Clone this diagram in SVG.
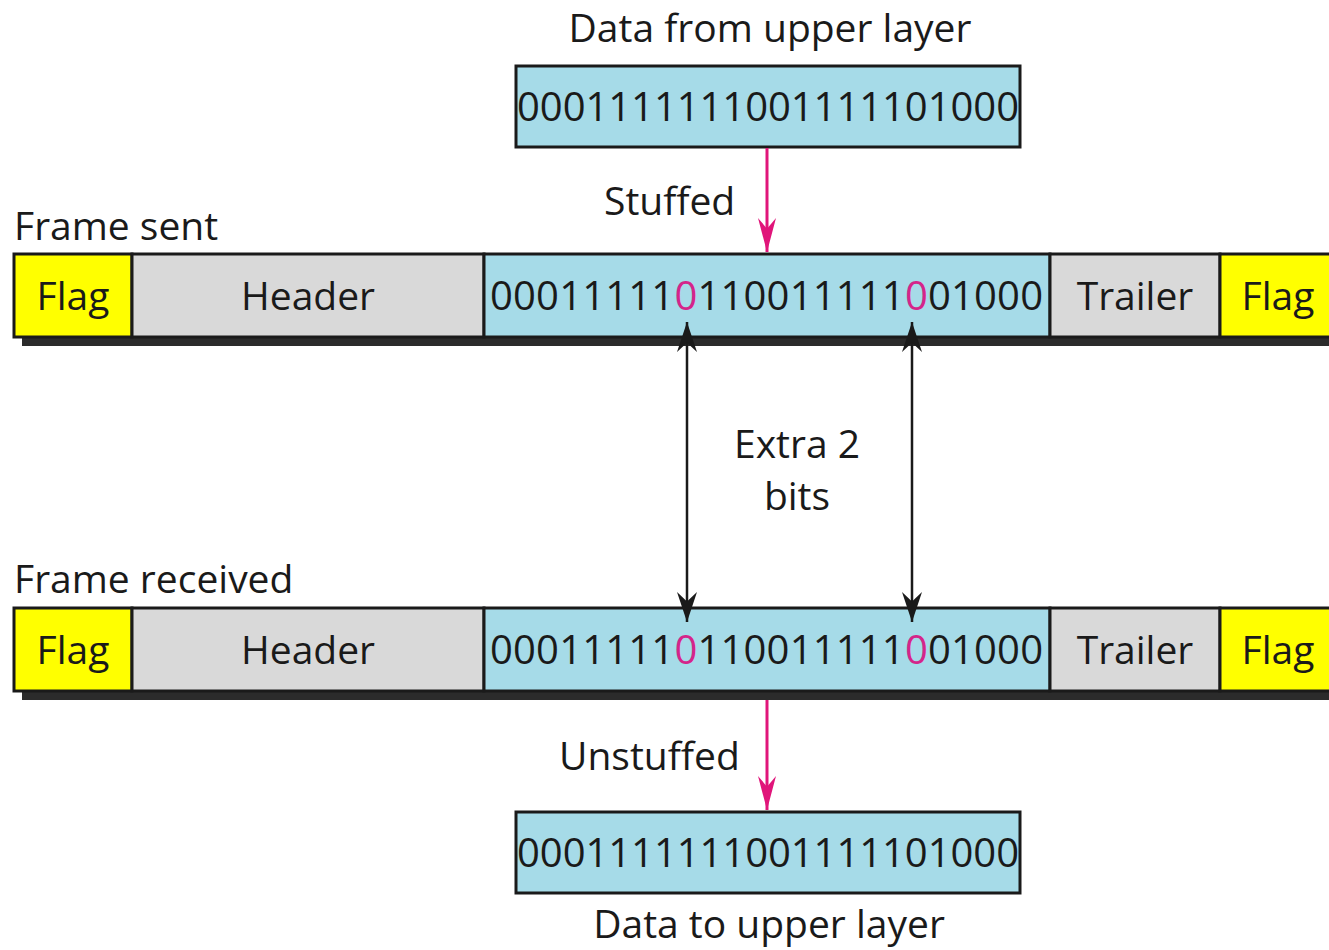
<svg xmlns="http://www.w3.org/2000/svg" width="1329" height="950" viewBox="0 0 1329 950">
<defs>
<style>
text{font-family:"Open Sans","Noto Sans","Liberation Sans",sans-serif;font-size:39px;fill:#1a1a1a}
.bits{font-size:40px}
.c{text-anchor:middle}
.box{stroke:#1a1a1a;stroke-width:3}
.flag{fill:#ffff00}
.gray{fill:#d9d9d9}
.blue{fill:#a6dbe8}
.shadow{fill:#2b2b2b}
.pk{fill:#d4258a}
.pinkline{stroke:#e0157a;stroke-width:3;fill:none}
.blackline{stroke:#1a1a1a;stroke-width:2.5;fill:none}
</style>
<marker id="pinkArrow" viewBox="0 0 16 10" preserveAspectRatio="none" refX="16" refY="5" markerWidth="34" markerHeight="18" markerUnits="userSpaceOnUse" orient="auto">
<path d="M0,0 L16,5 L0,10 L5,5 z" fill="#e0157a"/>
</marker>
<marker id="blackArrow" viewBox="0 0 16 10" preserveAspectRatio="none" refX="16" refY="5" markerWidth="30" markerHeight="20" markerUnits="userSpaceOnUse" orient="auto-start-reverse">
<path d="M0,0 L16,5 L0,10 L5,5 z" fill="#1a1a1a"/>
</marker>
</defs>
<rect width="1329" height="950" fill="#ffffff"/>

<g id="data-top">
<text class="c" x="770" y="42">Data from upper layer</text>
<rect class="box blue" x="516" y="66" width="504" height="81"/>
<text class="bits" x="517" y="121" textLength="502" lengthAdjust="spacing">0001111111001111101000</text>
</g>

<g id="frame-sent">
<text x="14" y="240">Frame sent</text>
<rect class="shadow" x="22" y="262" width="1310" height="84"/>
<rect class="box flag" x="14" y="254" width="118" height="83"/>
<rect class="box gray" x="132" y="254" width="352" height="83"/>
<rect class="box blue" x="484" y="254" width="566" height="83"/>
<rect class="box gray" x="1050" y="254" width="170" height="83"/>
<rect class="box flag" x="1220" y="254" width="112" height="83"/>
<text class="c" x="73" y="310">Flag</text>
<text class="c" x="308" y="310">Header</text>
<text class="bits" x="490" y="310" textLength="553" lengthAdjust="spacing">00011111<tspan class="pk">0</tspan>110011111<tspan class="pk">0</tspan>01000</text>
<text class="c" x="1135" y="310">Trailer</text>
<text class="c" x="1278" y="310">Flag</text>
</g>

<g id="frame-received">
<text x="14" y="593">Frame received</text>
<rect class="shadow" x="22" y="616" width="1310" height="84"/>
<rect class="box flag" x="14" y="608" width="118" height="83"/>
<rect class="box gray" x="132" y="608" width="352" height="83"/>
<rect class="box blue" x="484" y="608" width="566" height="83"/>
<rect class="box gray" x="1050" y="608" width="170" height="83"/>
<rect class="box flag" x="1220" y="608" width="112" height="83"/>
<text class="c" x="73" y="664">Flag</text>
<text class="c" x="308" y="664">Header</text>
<text class="bits" x="490" y="664" textLength="553" lengthAdjust="spacing">00011111<tspan class="pk">0</tspan>110011111<tspan class="pk">0</tspan>01000</text>
<text class="c" x="1135" y="664">Trailer</text>
<text class="c" x="1278" y="664">Flag</text>
</g>

<g id="data-bottom">
<rect class="box blue" x="516" y="812" width="504" height="81"/>
<text class="bits" x="517" y="867" textLength="502" lengthAdjust="spacing">0001111111001111101000</text>
<text class="c" x="769" y="938">Data to upper layer</text>
</g>

<g id="labels">
<text x="604" y="215">Stuffed</text>
<text class="c" x="797" y="458">Extra 2</text>
<text class="c" x="797" y="510">bits</text>
<text x="559" y="770">Unstuffed</text>
</g>

<g id="connectors">
<line class="pinkline" x1="767" y1="148" x2="767" y2="252" marker-end="url(#pinkArrow)"/>
<line class="pinkline" x1="767" y1="700" x2="767" y2="810" marker-end="url(#pinkArrow)"/>
<line class="blackline" x1="687" y1="322" x2="687" y2="622" marker-start="url(#blackArrow)" marker-end="url(#blackArrow)"/>
<line class="blackline" x1="912" y1="322" x2="912" y2="622" marker-start="url(#blackArrow)" marker-end="url(#blackArrow)"/>
</g>
</svg>
